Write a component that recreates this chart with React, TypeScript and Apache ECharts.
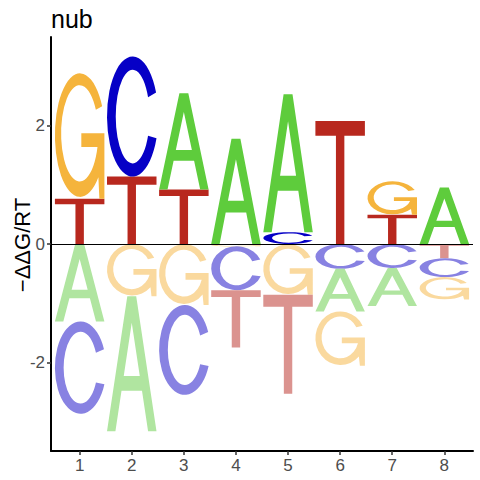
import React, { useEffect, useRef } from 'react';
import * as echarts from 'echarts';

// ---- data ----
const positions = [1, 2, 3, 4, 5, 6, 7, 8];
const letters = ['A', 'C', 'G', 'T'];
const scoreA = [-1.31, -2.28, 1.63, 1.78, 2.33, -0.72, -0.645, 0.955];
const scoreC = [-1.56, 2.03, -1.52, -0.74, 0.2, -0.42, -0.405, -0.32];
const scoreG = [2.12, -0.885, -1.03, -0.04, -0.86, -0.92, 0.565, -0.38];
const scoreT = [0.765, 1.14, 0.92, -0.97, -1.67, 2.08, 0.495, -0.24];
const yTicks = [-2, 0, 2];
const titleText = 'nub';
const yName = '\u2212\u0394\u0394G/RT';

// ---- styling ----
const FONT = '"Liberation Sans", Arial, sans-serif';
const DARK = ['#5ECC3C', '#0600C6', '#F5B43C', '#B8281E'];
const LIGHT = ['#B0E5A0', '#8882E2', '#FAD99E', '#DB938F'];
const COL_WIDTH = 0.95;

const GLYPHS: Record<string, string> = {
  A: 'M0,100 L41,0 L59,0 L100,100 L83,100 L70.7,70 L29.3,70 L17,100 Z M50,19.5 L33.8,59 L66.2,59 Z',
  C: 'M95.8,30 A50,50 0 1 0 96.6,68 L80.1,66 A33,39 0 1 1 80.1,34 Z',
  G: 'M95.5,25 A50,50 0 1 0 88,82.5 L90,100 L100,100 L100,47 L54,47 L54,58 L86.2,58 A37,39 0 1 1 83,28 Z',
  T: 'M0,0 L100,0 L100,12 L58.5,12 L58.5,100 L41.5,100 L41.5,12 L0,12 Z',
};

function buildStacks() {
  const scores = [scoreA, scoreC, scoreG, scoreT];
  const out: number[][] = [];
  positions.forEach((p, i) => {
    const items = letters.map((_, k) => ({ k, v: scores[k][i] }));
    const pos = items.filter((d) => d.v > 0).sort((a, b) => a.v - b.v);
    const neg = items.filter((d) => d.v < 0).sort((a, b) => b.v - a.v);
    let base = 0;
    pos.forEach((d) => {
      out.push([p, base, base + d.v, d.k, 0]);
      base += d.v;
    });
    base = 0;
    neg.forEach((d) => {
      out.push([p, base + d.v, base, d.k, 1]);
      base += d.v;
    });
  });
  return out;
}

export default function App() {
  const ref = useRef<HTMLDivElement>(null);
  useEffect(() => {
    if (!ref.current) return;
    const chart = echarts.init(ref.current, null, { renderer: 'svg' });
    const stacks = buildStacks();
    chart.setOption({
      animation: false,
      backgroundColor: '#fff',
      title: {
        text: titleText,
        left: 51,
        top: 6,
        padding: 0,
        textStyle: { fontSize: 25, fontWeight: 'normal', color: '#000', fontFamily: FONT },
      },
      graphic: [
        {
          type: 'text',
          x: 22,
          y: 245,
          rotation: Math.PI / 2,
          style: {
            text: yName,
            font: `22px ${FONT}`,
            fill: '#000',
            textAlign: 'center',
            textVerticalAlign: 'middle',
          },
        },
      ],
      grid: { left: 51, right: 7, top: 37, bottom: 29, containLabel: false, outerBoundsMode: 'none' },
      xAxis: {
        type: 'value',
        min: 0.45,
        max: 8.55,
        axisLine: { show: true, onZero: false, lineStyle: { color: '#000', width: 2 } },
        axisTick: { show: true, customValues: positions, length: 4, lineStyle: { color: '#333', width: 1.5 } },
        axisLabel: { customValues: positions, fontSize: 17, color: '#4D4D4D', fontFamily: FONT, margin: 6 },
        splitLine: { show: false },
      },
      yAxis: {
        type: 'value',
        min: -3.5,
        max: 3.5,
        axisLine: { show: true, onZero: false, lineStyle: { color: '#000', width: 2 } },
        axisTick: { show: true, customValues: yTicks, length: 4, lineStyle: { color: '#333', width: 1.5 } },
        axisLabel: { customValues: yTicks, fontSize: 17, color: '#4D4D4D', fontFamily: FONT, margin: 6 },
        splitLine: { show: false },
      },
      series: [
        {
          type: 'custom',
          coordinateSystem: 'cartesian2d',
          data: stacks,
          encode: { x: 0, y: [1, 2] },
          renderItem: (_params: any, api: any) => {
            const x = api.value(0) as number;
            const lo = api.value(1) as number;
            const hi = api.value(2) as number;
            const k = api.value(3) as number;
            const neg = api.value(4) as number;
            const tl = api.coord([x - COL_WIDTH / 2, hi]);
            const br = api.coord([x + COL_WIDTH / 2, lo]);
            return {
              type: 'path',
              shape: {
                pathData: GLYPHS[letters[k]],
                x: tl[0],
                y: tl[1],
                width: br[0] - tl[0],
                height: Math.max(br[1] - tl[1], 0.5),
                layout: 'cover',
              },
              style: { fill: neg ? LIGHT[k] : DARK[k] },
            };
          },
          markLine: {
            silent: true,
            symbol: 'none',
            label: { show: false },
            lineStyle: { color: '#000', width: 1, type: 'solid' },
            data: [{ yAxis: 0 }],
          },
        },
      ],
    });
    return () => chart.dispose();
  }, []);
  return (
    <div
      ref={ref}
      style={{ position: 'fixed', left: 0, top: 0, width: 480, height: 480, background: '#fff' }}
    />
  );
}
